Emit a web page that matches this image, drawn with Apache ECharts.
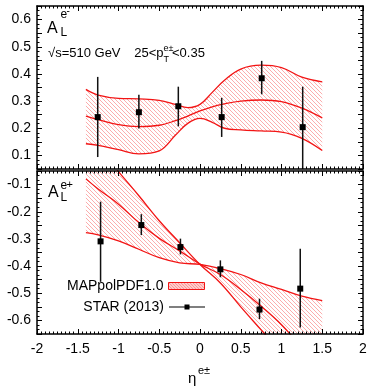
<!DOCTYPE html>
<html>
<head>
<meta charset="utf-8">
<script src="https://cdn.jsdelivr.net/npm/echarts@6/dist/echarts.min.js"></script>
<style>
  html, body { margin: 0; padding: 0; background: #fff; }
  #chart { width: 371px; height: 386px; }
</style>
</head>
<body>
<div id="chart"></div>
<script>
// A_L^{e-}: theory band (upper / central / lower curves)
const topXs      = [-1.4, -1.25, -1.0, -0.75, -0.5, -0.3, -0.15, 0, 0.15, 0.3, 0.5, 0.75, 1.0, 1.25, 1.5];
const topUpper   = [0.343, 0.322, 0.310, 0.308, 0.303, 0.288, 0.276, 0.288, 0.332, 0.377, 0.418, 0.432, 0.423, 0.388, 0.371];
const topCentral = [0.245, 0.232, 0.213, 0.206, 0.211, 0.228, 0.245, 0.264, 0.279, 0.290, 0.300, 0.304, 0.298, 0.274, 0.238];
const topLower   = [0.143, 0.137, 0.121, 0.106, 0.117, 0.175, 0.218, 0.236, 0.222, 0.200, 0.194, 0.190, 0.186, 0.163, 0.118];

// A_L^{e-}: STAR points
const topPtX  = [-1.255, -0.75, -0.266, 0.266, 0.757, 1.26];
const topPtY  = [0.241, 0.259, 0.281, 0.241, 0.384, 0.204];
const topPtLo = [0.094, 0.199, 0.207, 0.168, 0.325, 0.05];
const topPtHi = [0.389, 0.323, 0.353, 0.312, 0.448, 0.353];

// A_L^{e+}: theory curves (A steep, B flat, C central)
const botXs      = [-1.4, -1.25, -1.0, -0.75, -0.5, -0.25, 0, 0.25, 0.5, 0.75, 1.0, 1.25, 1.5];
const botCurveA  = [0.09, 0.04, -0.052, -0.141, -0.233, -0.314, -0.394, -0.462, -0.550, -0.635, -0.72, -0.80, -0.88];
const botCurveB  = [-0.277, -0.285, -0.307, -0.338, -0.369, -0.388, -0.394, -0.409, -0.431, -0.462, -0.486, -0.511, -0.527];
const botCentral = [-0.079, -0.116, -0.172, -0.240, -0.298, -0.344, -0.393, -0.431, -0.486, -0.548, -0.616, -0.70, -0.78];

// A_L^{e+}: STAR points
const botPtX  = [-1.22, -0.72, -0.24, 0.25, 0.73, 1.23];
const botPtY  = [-0.309, -0.249, -0.330, -0.412, -0.560, -0.483];
const botPtLo = [-0.458, -0.286, -0.357, -0.441, -0.595, -0.626];
const botPtHi = [-0.163, -0.209, -0.299, -0.379, -0.520, -0.336];

const FONT = '"Liberation Sans", Arial, Helvetica, sans-serif';
const RED = '#f21414';
const SMOOTH = 0.4;

function hatch(size, alpha) {
  const c = document.createElement('canvas');
  c.width = size; c.height = size;
  const g = c.getContext('2d');
  g.strokeStyle = 'rgba(245,40,40,' + alpha + ')';
  g.lineWidth = 1;
  g.beginPath();
  g.moveTo(-1, -1); g.lineTo(size + 1, size + 1);
  g.moveTo(-1, size - 1); g.lineTo(1, size + 1);
  g.moveTo(size - 1, -1); g.lineTo(size + 1, 1);
  g.stroke();
  return { image: c, repeat: 'repeat' };
}
const bandFill = hatch(4, 0.38);
const legendFill = hatch(3, 0.95);

function xAx(grid, pos, labels) {
  return {
    type: 'value', gridIndex: grid, position: pos, min: -2, max: 2, interval: 0.5, z: 10,
    axisLine: { onZero: false, lineStyle: { color: '#000', width: 1.5 } },
    axisTick: { inside: true, length: 5, lineStyle: { color: '#000', width: 1 } },
    minorTick: { show: true, splitNumber: 10, length: 2.5, lineStyle: { color: '#000', width: 1 } },
    splitLine: { show: false },
    axisLabel: { show: labels, color: '#000', fontSize: 14, fontFamily: FONT, margin: 8 }
  };
}

function yAx(grid, pos, labels, min, max) {
  return {
    type: 'value', gridIndex: grid, position: pos, min: min, max: max, interval: 0.05, z: 10,
    axisLine: { onZero: false, lineStyle: { color: '#000', width: 1.5 } },
    axisTick: { inside: true, length: 5, lineStyle: { color: '#000', width: 1 } },
    minorTick: { show: true, splitNumber: 3, length: 2.5, lineStyle: { color: '#000', width: 1 } },
    splitLine: { show: false },
    axisLabel: {
      show: labels, color: '#000', fontSize: 14, fontFamily: FONT, margin: 6,
      formatter: function (v) {
        const r = Math.round(v * 100);
        return r % 10 === 0 ? String(r / 100) : '';
      }
    }
  };
}

// stacked pair: transparent lower edge + band height; data is [y, x] so the stack runs on y
function band(id, xs, a, b, ax) {
  const lo = xs.map((x, i) => [Math.min(a[i], b[i]), x]);
  const h = xs.map((x, i) => [Math.abs(a[i] - b[i]), x]);
  return [
    { type: 'line', name: 'base' + id, xAxisIndex: ax, yAxisIndex: ax, data: lo,
      encode: { x: 1, y: 0 }, stack: 'band' + id, stackStrategy: 'all', symbol: 'none', smooth: SMOOTH,
      lineStyle: { width: 0, opacity: 0 }, silent: true, z: 1 },
    { type: 'line', name: 'MAPpolPDF1.0', xAxisIndex: ax, yAxisIndex: ax, data: h,
      encode: { x: 1, y: 0 }, stack: 'band' + id, stackStrategy: 'all', symbol: 'none', smooth: SMOOTH,
      lineStyle: { width: 0, opacity: 0 }, areaStyle: { color: bandFill, opacity: 1 },
      itemStyle: { color: RED }, silent: true, z: 1 }
  ];
}

function curve(xs, ys, ax) {
  return { type: 'line', name: 'curve', xAxisIndex: ax, yAxisIndex: ax,
    data: xs.map((x, i) => [x, ys[i]]), symbol: 'none', smooth: SMOOTH,
    lineStyle: { color: RED, width: 1.3 }, silent: true, z: 2 };
}

function points(xs, ys, lo, hi, ax) {
  return {
    type: 'custom', name: 'STAR (2013)', xAxisIndex: ax, yAxisIndex: ax, clip: true, z: 3,
    itemStyle: { color: '#000' },
    encode: { x: 0, y: 1 },
    data: xs.map((x, i) => [x, ys[i], lo[i], hi[i]]),
    renderItem: function (params, api) {
      const p = api.coord([api.value(0), api.value(1)]);
      const pl = api.coord([api.value(0), api.value(2)]);
      const ph = api.coord([api.value(0), api.value(3)]);
      return {
        type: 'group',
        children: [
          { type: 'line', shape: { x1: p[0], y1: pl[1], x2: p[0], y2: ph[1] },
            style: { stroke: '#111', lineWidth: 1.5 } },
          { type: 'rect', shape: { x: p[0] - 3, y: p[1] - 3, width: 6, height: 6 },
            style: { fill: '#000' } }
        ]
      };
    }
  };
}

function txt(x, y, s, size, align) {
  return { type: 'text', x: x, y: y, z: 20,
    style: { text: s, font: size + 'px ' + FONT, fill: '#000', verticalAlign: 'middle', align: align || 'left' } };
}

const chart = echarts.init(document.getElementById('chart'));
chart.setOption({
  animation: false,
  grid: [
    { left: 37, right: 8, top: 6, height: 163 },
    { left: 37, right: 8, top: 171, height: 163 }
  ],
  xAxis: [xAx(0, 'bottom', false), xAx(0, 'top', false), xAx(1, 'bottom', true), xAx(1, 'top', false)],
  yAxis: [yAx(0, 'left', true, 0.05, 0.65), yAx(0, 'right', false, 0.05, 0.65),
          yAx(1, 'left', true, -0.65, -0.05), yAx(1, 'right', false, -0.65, -0.05)],
  legend: [
    { data: [{ name: 'MAPpolPDF1.0', icon: 'rect',
               itemStyle: { color: legendFill, borderColor: RED, borderWidth: 1 } }],
      right: 166, top: 279, padding: 0, itemWidth: 36, itemHeight: 7, align: 'right',
      selectedMode: false, textStyle: { fontSize: 14, color: '#000', fontFamily: FONT } },
    { data: [{ name: 'STAR (2013)', icon: 'path://M0,2.9H36V4.1H0Z M15.5,1H20.5V6H15.5Z',
               itemStyle: { color: '#000', borderWidth: 0 } }],
      right: 166, top: 300, padding: 0, itemWidth: 36, itemHeight: 5, align: 'right',
      selectedMode: false, textStyle: { fontSize: 14, color: '#000', fontFamily: FONT } }
  ],
  graphic: [
    txt(47, 29, 'A', 16), txt(60.5, 15, 'e', 12), txt(66.5, 11, '-', 10), txt(60.5, 33, 'L', 12),
    txt(48, 53, '\u221As=510 GeV', 13), txt(163.5, 53, '25<p', 13, 'right'),
    txt(163.5, 48.5, 'e\u00B1', 9), txt(163.5, 60, 'T', 9), txt(172, 53, '<0.35', 13),
    txt(48, 193, 'A', 16), txt(60.5, 186, 'e', 12), txt(66.5, 185, '+', 11), txt(60.5, 198, 'L', 12),
    txt(188, 379, '\u03B7', 15), txt(198, 371, 'e\u00B1', 11)
  ],
  series: [
    ...band('t', topXs, topUpper, topLower, 0),
    curve(topXs, topUpper, 0), curve(topXs, topCentral, 0), curve(topXs, topLower, 0),
    points(topPtX, topPtY, topPtLo, topPtHi, 0),
    ...band('b', botXs, botCurveA, botCurveB, 2),
    curve(botXs, botCurveA, 2), curve(botXs, botCurveB, 2), curve(botXs, botCentral, 2),
    points(botPtX, botPtY, botPtLo, botPtHi, 2)
  ]
});
</script>
</body>
</html>
